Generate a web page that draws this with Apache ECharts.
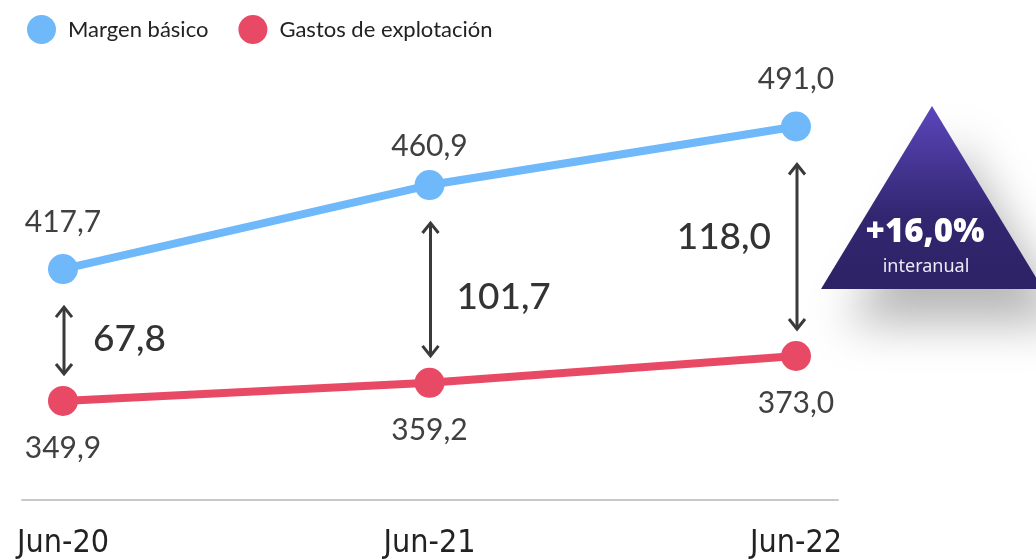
<!DOCTYPE html>
<html>
<head>
<meta charset="utf-8">
<script src="https://cdn.jsdelivr.net/npm/echarts@6/dist/echarts.min.js"></script>
<style>
  html, body { margin: 0; padding: 0; background: #fff; }
  #chart { width: 1036px; height: 560px; }
</style>
</head>
<body>
<div id="chart"></div>
<script>
var categories = ['Jun-20', 'Jun-21', 'Jun-22'];
var margenBasico = [417.7, 460.9, 491.0];
var gastosExplotacion = [349.9, 359.2, 373.0];
var diferencias = [67.8, 101.7, 118.0];
var variacionTexto = '+16,0%';

function fmt(v) {
  return v.toFixed(1).replace('.', ',');
}

var myChart = echarts.init(document.getElementById('chart'));

var arrowData = categories.map(function (c, i) {
  return [i, margenBasico[i], gastosExplotacion[i], diferencias[i]];
});

function renderArrow(params, api) {
  var top = api.coord([api.value(0), api.value(1)]);
  var bot = api.coord([api.value(0), api.value(2)]);
  var x = top[0] + 1;
  var y1 = top[1] + 38;
  var y2 = bot[1] - 27;
  var i = params.dataIndex;
  var isLast = i === categories.length - 1;
  var stroke = { stroke: '#3a3a3a', lineWidth: 3, fill: null };
  return {
    type: 'group',
    children: [
      { type: 'line', shape: { x1: x, y1: y1, x2: x, y2: y2 }, style: stroke },
      { type: 'polyline', shape: { points: [[x - 8, y1 + 10], [x, y1], [x + 8, y1 + 10]] }, style: stroke },
      { type: 'polyline', shape: { points: [[x - 8, y2 - 10], [x, y2], [x + 8, y2 - 10]] }, style: stroke },
      {
        type: 'text',
        x: isLast ? x - 26 : x + (i === 0 ? 29 : 26),
        y: isLast ? (y1 + y2) / 2 - 10 : (y1 + y2) / 2 + (i === 0 ? -1 : 8),
        style: {
          text: fmt(api.value(3)),
          fill: '#333',
          font: '500 37px Lato',
          align: isLast ? 'right' : 'left',
          verticalAlign: 'middle'
        }
      }
    ]
  };
}

var option = {
  animation: false,
  legend: {
    left: 22,
    top: 10,
    icon: 'circle',
    itemWidth: 29,
    itemHeight: 29,
    itemGap: 30,
    textStyle: { fontFamily: 'Lato', fontSize: 22, color: '#222', padding: [0, 0, 0, 7] },
    data: ['Margen básico', 'Gastos de explotación']
  },
  grid: [
    { left: 63, right: 240, top: 109, bottom: 56 },
    { left: 22, right: 198, top: 105, bottom: 60 }
  ],
  xAxis: [
    {
      type: 'category',
      gridIndex: 0,
      boundaryGap: false,
      data: categories,
      axisLine: { show: false },
      axisTick: { show: false },
      axisLabel: {
        margin: 30,
        fontFamily: 'DejaVu Sans Condensed',
        fontSize: 32,
        color: '#222'
      }
    },
    {
      type: 'value',
      gridIndex: 1,
      min: 0,
      max: 1,
      axisLine: { show: true, lineStyle: { color: '#c8c8c8', width: 2 } },
      axisTick: { show: false },
      axisLabel: { show: false },
      splitLine: { show: false }
    }
  ],
  yAxis: [
    { type: 'value', gridIndex: 0, min: 300, max: 500, show: false },
    { type: 'value', gridIndex: 1, min: 0, max: 1, show: false }
  ],
  series: [
    {
      name: 'Margen básico',
      type: 'line',
      data: margenBasico.map(function (v, i) {
        return i === 1 ? { value: v, label: { distance: 9 } } : v;
      }),
      symbol: 'circle',
      symbolSize: 30,
      itemStyle: { color: '#6fb8fa' },
      lineStyle: { width: 8, color: '#6fb8fa' },
      label: {
        show: true,
        position: 'top',
        distance: 17,
        fontFamily: 'Lato',
        fontSize: 30,
        color: '#404040',
        formatter: function (p) { return fmt(p.value); }
      }
    },
    {
      name: 'Gastos de explotación',
      type: 'line',
      data: gastosExplotacion,
      symbol: 'circle',
      symbolSize: 30,
      itemStyle: { color: '#e84a66' },
      lineStyle: { width: 8, color: '#e84a66' },
      label: {
        show: true,
        position: 'bottom',
        distance: 17,
        fontFamily: 'Lato',
        fontSize: 30,
        color: '#404040',
        formatter: function (p) { return fmt(p.value); }
      }
    },
    {
      type: 'custom',
      data: arrowData,
      encode: { x: 0, y: [1, 2] },
      renderItem: renderArrow,
      z: 1
    }
  ],
  graphic: [
    {
      type: 'group',
      children: [
        {
          type: 'polygon',
          shape: { points: [[932, 106], [821, 289], [1043, 289]] },
          style: {
            fill: new echarts.graphic.LinearGradient(0, 0, 0, 1, [
              { offset: 0, color: '#5b46bb' },
              { offset: 0.6, color: '#322670' },
              { offset: 1, color: '#2d2265' }
            ]),
            shadowBlur: 45,
            shadowOffsetX: 25,
            shadowOffsetY: 35,
            shadowColor: 'rgba(0,0,0,0.28)'
          }
        },
        {
          type: 'text',
          x: 925,
          y: 233,
          style: {
            text: variacionTexto,
            fill: '#fff',
            font: '800 33px "Open Sans"',
            align: 'center',
            verticalAlign: 'middle'
          }
        },
        {
          type: 'text',
          x: 926,
          y: 267,
          style: {
            text: 'interanual',
            fill: '#ecebf5',
            font: '18px "Noto Sans"',
            align: 'center',
            verticalAlign: 'middle'
          }
        }
      ]
    }
  ]
};

myChart.setOption(option);
window.addEventListener('resize', function () {
  myChart.resize();
});
</script>
</body>
</html>
